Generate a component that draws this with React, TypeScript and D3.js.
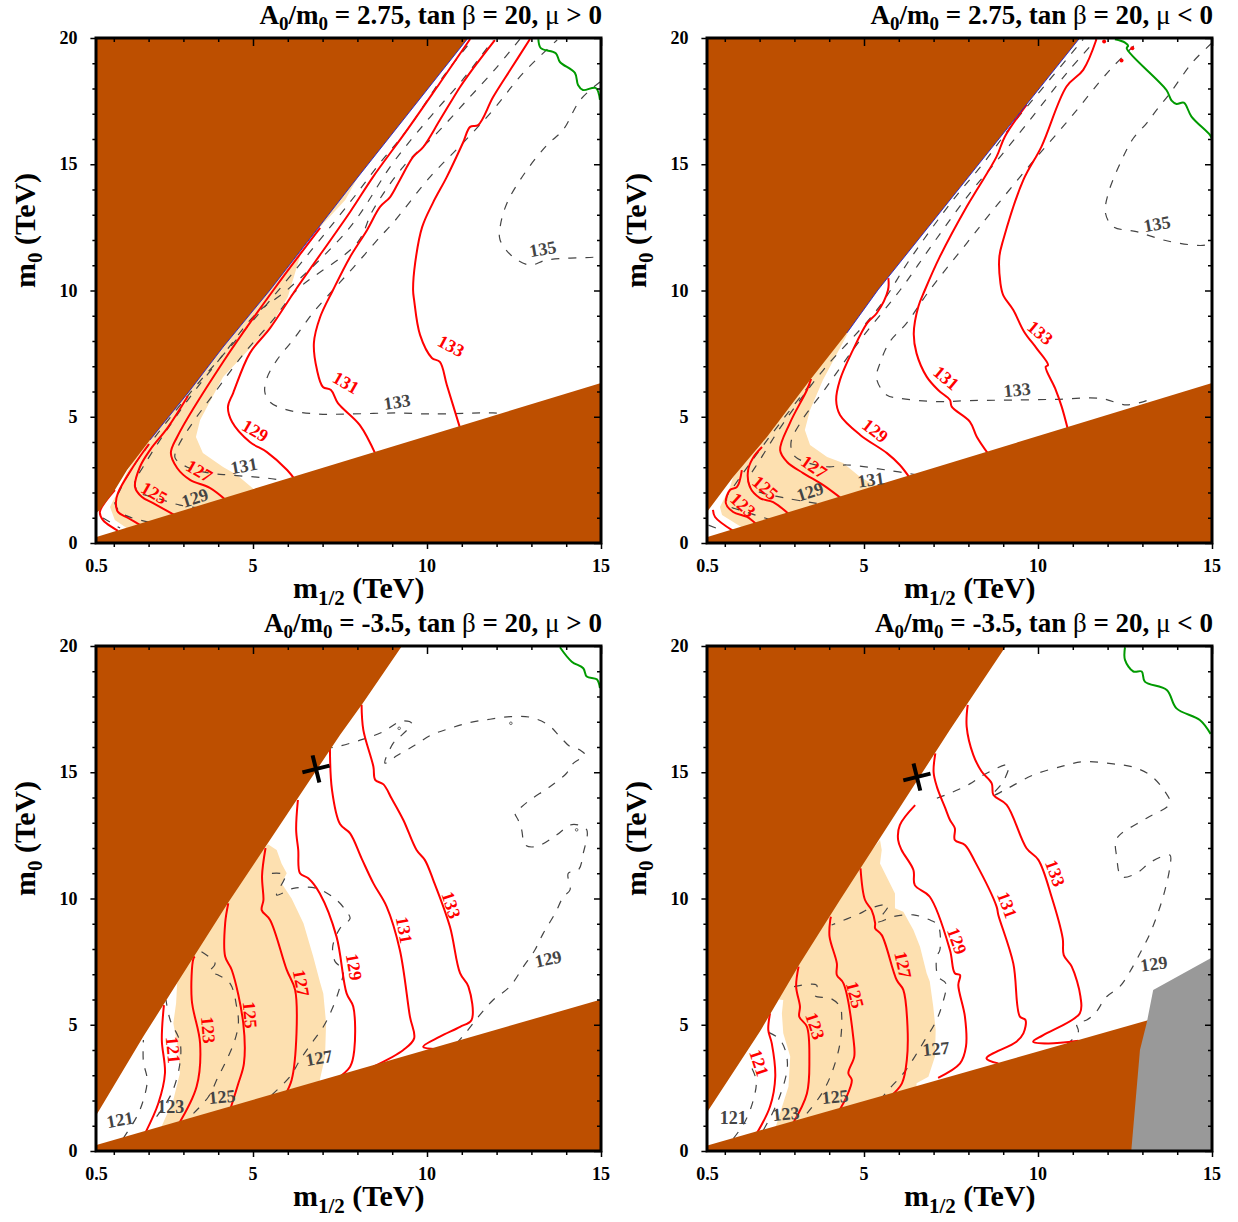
import React, { useRef, useEffect } from 'react';
import * as d3 from 'd3';

type Pt = [number, number];
type Label = [string, number, number, number]; // text, m1/2, m0, rotation

const xMajor = [5, 10, 15];
const xMinor = d3.range(1, 15).filter(d => d % 5 !== 0);
const yMajor = [0, 5, 10, 15, 20];
const yMinor = d3.range(1, 20).filter(d => d % 5 !== 0);

// ---- A0/m0 = 2.75, mu > 0
const p1Upper: Pt[] = [[0.5, 1.19], [0.6, 1.31], [1.03, 2.1], [1.38, 2.89], [2.04, 4.08], [3.13, 5.94], [4.14, 7.76], [5.49, 10.02], [7.79, 14.1], [11.18, 20]];
const p1Lower: Pt[] = [[0.5, 0.24], [15, 6.34]];
const p1Cream: Pt[] = [[0.89, 1.43], [1.09, 1.98], [1.38, 2.81], [4, 9], [8.3, 15.2], [7.65, 13.58], [6.45, 11.8], [6.0, 9.74], [5.49, 8.55], [4.14, 6.57], [3.48, 4.87], [3.36, 4.2], [3.56, 3.56], [4.14, 3.01], [4.54, 2.69], [5.09, 2.06], [5.09, 1.5], [1.2, 0.2], [1.41, 0.55], [1.03, 0.91]];
const p1Red: Pt[][] = [
  [[1.03, 2.1], [0.6, 1.23], [0.69, 0.91], [1.12, 0.48]],
  [[2.01, 3.92], [1.55, 3.01], [1.12, 1.98], [1.06, 1.58], [1.12, 1.23], [1.41, 0.99], [1.81, 0.67]],
  [[3.13, 5.82], [2.56, 4.59], [2.04, 3.68], [1.75, 3.01], [1.61, 2.22], [1.81, 1.82], [2.13, 1.58], [2.79, 1.07]],
  [[6.93, 12.48], [5.63, 10.1], [4.14, 7.17], [2.82, 4.2], [2.64, 3.56], [2.82, 2.97], [3.19, 2.5], [3.76, 2.18], [4.25, 1.66]],
  [[11.24, 19.96], [10.37, 18.22], [9.43, 16.36], [8.45, 14.5], [7.79, 13.11], [6.26, 10.1], [5.49, 8.51], [4.91, 7.52], [4.43, 5.94], [4.28, 5.39], [4.4, 4.79], [4.91, 4], [5.4, 3.6], [5.98, 2.89], [6.21, 2.5]],
  [[11.95, 19.92], [11.29, 18.73], [10.95, 18.06], [10.37, 16.75], [9.89, 15.68], [9.6, 15.29], [9.22, 14.38], [8.94, 13.7], [8.65, 13.31], [8.28, 12.4], [7.79, 11.33], [7.3, 10.02], [6.93, 8.95], [6.75, 7.92], [6.84, 6.85], [7.01, 6.18], [7.24, 6.06], [7.44, 5.54], [8.07, 4.67], [8.53, 3.49]],
  [[12.96, 19.96], [12.39, 18.73], [11.9, 17.66], [11.47, 16.55], [11.24, 16.48], [11.03, 15.84], [10.57, 14.5], [10.17, 13.47], [9.86, 12.51], [9.66, 11.09], [9.6, 10.02], [9.63, 9.62], [9.8, 8.24], [10.14, 7.33], [10.37, 7.17], [10.57, 6.26], [10.95, 4.55]],
];
const p1Dash: Pt[][] = [
  [[0.69, 0.99], [1.18, 0.59]],
  [[2.01, 0.83], [1.26, 1.15], [1.03, 1.58], [1.18, 2.1], [1.55, 3.01], [3.19, 5.94], [4.34, 7.76], [5.57, 9.74], [7.79, 13.5], [8.65, 15.05], [9.43, 16.36], [10.46, 18.46], [11.32, 19.96]],
  [[3.48, 1.39], [2.9, 1.5], [2.24, 1.78], [1.7, 2.02], [1.61, 2.42], [1.84, 3.01], [2.33, 4.08], [3.19, 5.78], [4.14, 7.45], [5.11, 9.11], [5.98, 10.02], [7.79, 12.51], [9.02, 15.05], [10.09, 16.87], [10.95, 18.22], [11.9, 19.92]],
  [[6.15, 2.42], [5.4, 2.57], [4.34, 2.69], [3.76, 2.77], [3.1, 3.01], [2.76, 3.37], [2.84, 3.8], [3.28, 4.79], [3.85, 5.86], [4.71, 7.45], [5.57, 8.83], [6.26, 10.02], [7.99, 11.88], [8.45, 13.19], [9.31, 14.89], [10.29, 16.24], [11.15, 17.54], [12.01, 18.85], [12.67, 19.96]],
  [[12.5, 5.1], [11.9, 5.15], [11.52, 5.15], [10.09, 5.11], [9.14, 5.15], [7.79, 5.11], [6.84, 5.11], [5.98, 5.27], [5.49, 5.58], [5.34, 5.98], [5.4, 6.53], [5.69, 7.25], [6.15, 8.04], [6.72, 9.11], [7.3, 10.02], [7.87, 10.89], [8.65, 12.12], [9.02, 12.67], [10.09, 14.5], [11.03, 15.84], [11.9, 17.15], [12.76, 18.61], [13.74, 19.92]],
  [[14.97, 18.26], [14.4, 17.54], [13.91, 16.36], [13.45, 15.76], [12.87, 14.77], [12.3, 13.47], [12.1, 12.51], [12.1, 12], [12.47, 11.33], [12.96, 11.01], [13.45, 11.21], [14.89, 11.33], [15, 11.36]],
];
const p1Green: Pt[] = [[13.2, 19.95], [13.27, 19.6], [13.7, 19.4], [13.82, 19.05], [14.25, 18.62], [14.34, 18.14], [14.48, 17.94], [14.85, 18.02], [14.97, 17.55]];
const p1RedLabels: Label[] = [['125', 2.16, 1.98, 30], ['127', 3.45, 2.85, 30], ['129', 5.06, 4.44, 30], ['131', 7.67, 6.34, 30], ['133', 10.69, 7.8, 28]];
const p1DashLabels: Label[] = [['129', 3.33, 1.78, -18], ['131', 4.74, 3.05, -10], ['133', 9.14, 5.58, -8], ['135', 13.33, 11.64, -10]];

// ---- A0/m0 = 2.75, mu < 0
const p2Upper: Pt[] = [[0.5, 1.25], [1.24, 2.61], [2.21, 4.2], [3.45, 6.46], [4.51, 8.32], [5.4, 10.02], [11.2, 20]];
const p2Lower: Pt[] = [[0.5, 0.24], [15, 6.34]];
const p2Cream: Pt[] = [[0.86, 1.43], [1.15, 2.22], [1.24, 2.61], [3, 6.5], [4.54, 8.32], [3.82, 6.46], [3.45, 5.27], [3.3, 4.48], [3.45, 3.88], [3.94, 3.41], [4.4, 3.17], [4.89, 2.61], [5.46, 2.18], [5.46, 1.5], [1.5, 0.2], [1.52, 0.59], [0.92, 1.11]];
const p2Red: Pt[][] = [
  [[0.66, 1.31], [0.72, 1.03], [1.24, 0.48]],
  [[1.49, 2.89], [1.35, 2.22], [1.15, 2.1], [1.03, 1.58], [1.24, 1.23], [1.64, 1.03], [1.93, 0.71]],
  [[2.07, 3.8], [1.81, 3.37], [1.67, 2.89], [1.72, 2.22], [2.01, 1.78], [2.39, 1.62], [2.87, 1.11]],
  [[3.48, 6.5], [3.36, 6.06], [2.87, 4.75], [2.59, 3.68], [2.79, 3.21], [3.25, 2.77], [3.82, 2.3], [4.37, 1.74]],
  [[5.7, 10.49], [5.69, 10.02], [5.37, 9.11], [5.09, 8.71], [4.68, 7.64], [4.31, 6.46], [4.2, 5.66], [4.31, 5.07], [4.89, 4.28], [5.66, 3.56], [6.03, 3.09], [6.32, 2.57]],
  [[9.67, 17.35], [9.05, 16.1], [8.81, 15.3], [8.24, 13.98], [7.95, 13.32], [7.18, 11.34], [6.75, 10.02], [6.56, 9.36], [6.43, 8.3], [6.51, 7.51], [6.8, 6.59], [7.13, 6.06], [7.47, 5.66], [7.52, 5.4], [8.04, 4.81], [8.24, 4.21], [8.57, 3.53]],
  [[11.68, 19.95], [11.3, 18.74], [10.82, 18.08], [10.1, 15.7], [9.58, 14.38], [9, 12], [8.89, 11.34], [8.92, 10.29], [9, 9.82], [9.29, 9.23], [9.6, 8.37], [9.96, 7.71], [10.29, 7.05], [10.22, 6.98], [10.49, 6.13], [10.68, 5.4], [10.85, 4.54]],
];
const p2Dash: Pt[][] = [
  [[0.53, 0.71], [0.77, 0.58]],
  [[2.35, 0.91], [1.58, 1.24], [1.1, 1.5], [1.06, 1.84], [1.25, 2.23], [2.11, 3.88], [3.55, 6.46]],
  [[3.64, 1.57], [2.78, 1.77], [1.97, 2.03], [1.73, 2.23], [1.68, 2.5], [2.01, 3.29], [2.68, 4.74], [3.83, 6.85], [5.37, 9.23], [6.37, 11.34], [7.56, 13.59], [8.43, 15.04], [9.29, 16.62], [10.25, 18.21], [11.3, 19.95]],
  [[6.56, 2.69], [5.65, 2.89], [4.5, 3.09], [3.93, 3.02], [3.02, 3.42], [2.9, 3.95], [3.16, 4.74], [3.93, 6.19], [4.89, 8.04], [6.04, 10.02], [6.99, 11.87], [8.04, 13.85], [9, 15.44], [9.96, 17.09], [10.82, 18.6], [11.68, 19.95]],
  [[13.12, 5.64], [12.55, 5.47], [11.78, 5.73], [10.53, 5.69], [9.19, 5.66], [8.04, 5.64], [7.09, 5.6], [6.03, 5.73], [5.65, 5.86], [5.36, 6.52], [5.46, 7.12], [5.74, 7.97], [6.22, 8.7], [6.89, 10.02], [7.95, 11.87], [8.71, 13.19], [9.77, 14.97], [10.92, 16.82], [12.07, 18.74], [12.93, 19.92]],
  [[14.99, 19.79], [14.46, 19.07], [13.79, 17.81], [13.41, 17.15], [13.12, 16.62], [12.74, 16.03], [12.45, 15.3], [12.02, 13.85], [11.94, 13.06], [12.16, 12.53], [12.83, 12.33], [13.79, 11.94], [14.84, 11.81], [15, 12]],
];
const p2Green: Pt[] = [[12.21, 19.95], [12.5, 19.82], [12.59, 19.69], [12.55, 19.59], [13.69, 17.94], [13.84, 17.52], [13.98, 17.39], [14.19, 17.44], [14.41, 16.89], [14.94, 16.16], [15, 16]];
const p2RedDots: Pt[] = [[11.9, 19.86], [12.71, 19.59], [12.4, 19.11]];
const p2RedLabels: Label[] = [['123', 1.52, 1.5, 42], ['125', 2.16, 2.18, 40], ['127', 3.56, 3.01, 35], ['129', 5.32, 4.44, 38], ['131', 7.36, 6.53, 40], ['133', 10.06, 8.32, 40]];
const p2DashLabels: Label[] = [['129', 3.45, 2.02, -18], ['131', 5.2, 2.5, -8], ['133', 9.4, 6.06, -6], ['135', 13.42, 12.63, -10]];

// ---- A0/m0 = -3.5, mu > 0
const p3Upper: Pt[] = [[0.5, 1.43], [1.84, 4.51], [2.82, 6.65], [4.28, 9.82], [7.5, 16.48], [8.16, 17.74], [9.28, 20]];
const p3Lower: Pt[] = [[0.5, 0.24], [15, 6]];
const p3Cream: Pt[] = [[2.82, 6.65], [2.79, 5.85], [2.71, 5.06], [2.85, 4], [2.9, 3.08], [2.71, 2.02], [2.35, 0.9], [2.35, 0.4], [6.92, 2], [6.92, 2.81], [7.07, 3.73], [7.1, 5.06], [7.02, 6.24], [6.92, 6.71], [6.73, 7.7], [6.45, 9.02], [6.11, 10], [5.82, 10.6], [5.97, 11], [5.82, 11.39], [5.68, 11.92], [5.43, 12.15], [3.5, 9]];
const p3Red: Pt[][] = [
  [[2.44, 5.78], [2.38, 4.4], [2.47, 3.08], [2.28, 1.89], [1.9, 0.7]],
  [[3.33, 7.7], [3.29, 7.63], [3.24, 5.98], [3.48, 4.26], [3.38, 2.55], [2.85, 1.03]],
  [[4.29, 9.81], [4.2, 9.02], [4.2, 7.7], [4.39, 7.17], [4.72, 5.06], [4.74, 3.47], [4.58, 2.68], [4.34, 1.62]],
  [[5.36, 12], [5.26, 10.9], [5.3, 9.94], [5.25, 9.54], [5.49, 9.15], [5.97, 7.17], [6.21, 6.38], [6.25, 4.66], [6.11, 2.81], [5.92, 2.22]],
  [[6.29, 13.9], [6.24, 12.71], [6.3, 11.92], [6.35, 11], [6.59, 10.8], [6.92, 10.2], [7.4, 8.49], [7.69, 6.24], [7.88, 5.72], [7.91, 4], [7.79, 3.34], [7.36, 2.81]],
  [[7.21, 16.08], [7.27, 14.3], [7.5, 12.95], [7.79, 12.58], [8.12, 11.59], [8.46, 10.6], [8.84, 9.68], [9.22, 7.96], [9.51, 5.32], [9.63, 4.46], [9.32, 4], [8.46, 3.34]],
  [[8.12, 17.67], [8.17, 16.68], [8.46, 15.22], [8.51, 14.7], [8.75, 14.52], [8.98, 13.97], [9.32, 13.11], [9.7, 11.92], [9.94, 11.52], [10.18, 10.73], [10.66, 8.88], [10.95, 7.04], [11.19, 6.51], [11.28, 5.19], [10.95, 4.92], [10.37, 4.53], [9.89, 4.13], [10.28, 4.03]],
];
const p3Dash: Pt[][] = [
  [[1.27, 0.5], [1.66, 1.36], [1.85, 2.02], [1.96, 2.81], [1.85, 3.54], [1.85, 4.4]],
  [[2.23, 1.36], [2.66, 2.28], [2.9, 3.47], [2.9, 4.33], [2.62, 5.19], [2.5, 5.98]],
  [[3.29, 1.49], [3.72, 2.15], [4, 2.94], [4.24, 3.6], [4.48, 4.4], [4.58, 5.06], [4.53, 5.72], [4.34, 6.64], [4, 6.97], [3.76, 7.1], [3.91, 7.43], [3.52, 7.89]],
  [[5.54, 2.22], [6.06, 2.94], [6.35, 3.6], [6.68, 4.26], [7.02, 4.92], [7.26, 5.58], [7.5, 6.51], [7.59, 7.17], [7.36, 7.5], [7.29, 8.09], [7.5, 8.82], [7.79, 9.21], [7.69, 9.48], [7.4, 9.94], [6.83, 10.4], [6.16, 10.4], [5.68, 10.14], [5.92, 10.93], [5.34, 10.97]],
  [[10.85, 4.26], [11.14, 4.73], [11.52, 5.39], [11.9, 5.98], [12.38, 6.51], [12.77, 7.3], [13.1, 7.96], [13.34, 8.62], [13.68, 9.41], [13.92, 10.07], [14.11, 10.34], [14.06, 11], [14.35, 11.13], [14.49, 11.79], [14.59, 12.72], [14.35, 12.91], [14.11, 12.91], [13.73, 12.52], [13.15, 12.06], [12.82, 12.12], [12.72, 12.72], [12.62, 13.11], [12.53, 13.38], [12.67, 13.57], [12.96, 13.9], [13.53, 14.43], [14.01, 14.96], [14.21, 15.36], [14.54, 15.69], [14.4, 15.88], [14.11, 16.02], [13.82, 16.41], [13.49, 16.87], [12.96, 17.18], [12.39, 17.2], [11.81, 17.1], [11.24, 16.97], [10.66, 16.74], [10.13, 16.48], [9.66, 16.08], [9.13, 15.65], [8.79, 15.36], [9.03, 16.15], [9.18, 16.35], [9.56, 16.94], [9.27, 17.03], [8.75, 16.61], [8.17, 16.31], [7.5, 16.04], [7.21, 15.96]],
];
const p3Green: Pt[] = [[13.82, 19.95], [14.16, 19.38], [14.49, 19.12], [14.59, 18.79], [14.88, 18.68], [14.97, 18.33]];
const p3Dots: Pt[] = [[9.2, 16.74], [12.41, 16.94], [14.3, 12.72]];
const p3Cross: Pt = [6.81, 15.13];
const p3RedLabels: Label[] = [['121', 2.7, 4, 85], ['123', 3.71, 4.79, 85], ['125', 4.91, 5.39, 85], ['127', 6.38, 6.65, 80], ['129', 7.9, 7.29, 80], ['131', 9.34, 8.75, 80], ['133', 10.69, 9.74, 72]];
const p3DashLabels: Label[] = [['121', 1.18, 1.23, -10], ['123', 2.64, 1.74, 0], ['125', 4.11, 2.14, -5], ['127', 6.9, 3.68, -10], ['129', 13.48, 7.6, -12]];

// ---- A0/m0 = -3.5, mu < 0
const p4Upper: Pt[] = [[0.5, 1.55], [2.01, 4.73], [3.16, 7.43], [4.31, 9.94], [7.47, 16.68], [7.95, 17.67], [9.08, 20]];
const p4Lower: Pt[] = [[0.5, 0.22], [15, 5.9]];
const p4Grey: Pt[] = [[15, 7.66], [13.31, 6.38], [13.13, 5.11], [12.93, 4], [12.68, 0], [15, 0]];
const p4Cream: Pt[] = [[2.55, 6], [2.68, 5.98], [2.64, 5.45], [2.68, 4.66], [2.88, 3.74], [2.83, 2.55], [2.45, 0.9], [2.45, 0.4], [6.51, 2], [6.51, 2.68], [6.85, 2.94], [7.04, 3.74], [7.06, 4.79], [6.99, 5.72], [6.89, 6.71], [6.8, 7.04], [6.61, 8.09], [6.42, 8.75], [6.13, 9.48], [5.89, 9.61], [5.89, 10.2], [5.65, 10.86], [5.46, 11.39], [5.51, 11.92], [5.46, 12.32], [3.5, 9]];
const p4Red: Pt[][] = [
  [[2.3, 5.45], [2.25, 4.79], [2.35, 4.26], [2.45, 2.94], [2.3, 1.76], [1.92, 0.7]],
  [[3.12, 7.3], [3.05, 6.51], [3.16, 5.72], [3.14, 5.32], [3.36, 4.92], [3.43, 3.6], [3.36, 2.28], [2.95, 1.07]],
  [[4.05, 9.28], [4.03, 9.15], [4.01, 8.49], [4.22, 7.43], [4.22, 6.97], [4.41, 6.64], [4.7, 4.4], [4.72, 3.74], [4.55, 3.08], [4.65, 2.81], [4.5, 2.15], [4.27, 1.56]],
  [[4.9, 11.2], [5.03, 9.94], [5.22, 9.54], [5.32, 9.02], [5.32, 8.82], [5.51, 8.55], [5.94, 6.77], [6.13, 6.38], [6.25, 4.92], [6.23, 3.6], [6.09, 2.68], [5.75, 2.15]],
  [[6.47, 13.7], [6.03, 12.91], [5.98, 12.32], [6.08, 11.92], [6.42, 11.13], [6.46, 10.53], [6.89, 10.07], [7.47, 7.96], [7.61, 7.04], [7.76, 6.97], [7.71, 6.57], [7.9, 5.32], [7.93, 4.13], [7.76, 3.47], [7.13, 2.9]],
  [[7.05, 15.75], [7, 15], [7.1, 14.4], [7.33, 13.6], [7.47, 13.11], [7.61, 12.78], [7.61, 12.32], [7.9, 12.12], [8.19, 11.46], [8.81, 9.68], [8.86, 9.35], [9.29, 7.43], [9.48, 5.32], [9.64, 5.19], [9.58, 4.66], [9.38, 4.33], [8.52, 3.67], [8.86, 3.47]],
  [[7.98, 17.67], [7.95, 16.81], [8.14, 15.69], [8.38, 15.03], [8.67, 14.56], [8.72, 14.1], [9.1, 13.71], [9.67, 11.99], [10.01, 11.53], [10.39, 10.07], [10.71, 8.42], [10.74, 7.76], [10.97, 7.3], [11.22, 6.11], [11.2, 5.45], [10.15, 4.59], [9.86, 4.33], [10.29, 4.26], [11.16, 4.37]],
];
const p4Dash: Pt[][] = [
  [[1.25, 0.5], [1.58, 1.16], [1.82, 2.02], [1.9, 2.81], [1.68, 3.54]],
  [[2.11, 0.83], [2.54, 2.02], [2.8, 3.47], [2.59, 4.4], [2.11, 4.79]],
  [[3.36, 1.49], [3.79, 2.28], [4.07, 3.08], [4.31, 4.26], [4.36, 5.32], [4.31, 5.72], [4.03, 6.05], [3.6, 6.14], [3.64, 6.57], [2.88, 6.48]],
  [[5.46, 2.02], [5.74, 2.48], [6.13, 3.07], [6.46, 3.74], [6.75, 4.4], [7.04, 5.06], [7.23, 5.72], [7.35, 6.64], [7.13, 6.9], [7.09, 7.7], [7.18, 7.96], [7.13, 8.95], [6.94, 9.12], [6.42, 9.35], [5.84, 9.28], [5.41, 9.08], [5.7, 9.74], [5.17, 9.61], [4.89, 9.41], [4.07, 8.95]],
  [[10.82, 4.2], [11.16, 4.73], [11.11, 5.05], [11.4, 5.19], [11.64, 5.45], [11.97, 6.11], [12.35, 6.51], [12.64, 7.1], [12.98, 7.96], [13.22, 8.62], [13.46, 9.48], [13.65, 10.34], [13.79, 11.26], [13.79, 11.72], [13.26, 11.46], [12.83, 11], [12.4, 10.86], [12.26, 11.66], [12.23, 12.25], [12.35, 12.52], [13.12, 13.18], [13.79, 13.77], [13.65, 14.23], [13.22, 14.89], [12.69, 15.22], [12.16, 15.33], [11.3, 15.42], [10.73, 15.25], [9.86, 14.89], [9.1, 14.34], [8.67, 14.06], [9, 14.63], [9.15, 15.29], [8.43, 14.89], [8.04, 14.54], [7.47, 14.17], [6.95, 13.9]],
];
const p4Green: Pt[] = [[12.5, 19.95], [12.5, 19.45], [12.74, 18.99], [12.98, 18.99], [13.07, 18.59], [13.7, 18.26], [13.98, 17.53], [14.65, 17.07], [14.96, 16.52]];
const p4Cross: Pt = [6.52, 14.81];
const p4RedLabels: Label[] = [['121', 1.98, 3.49, 72], ['123', 3.59, 4.95, 72], ['125', 4.74, 6.18, 75], ['127', 6.12, 7.37, 78], ['129', 7.67, 8.32, 70], ['131', 9.11, 9.74, 70], ['133', 10.49, 11, 70]];
const p4DashLabels: Label[] = [['121', 1.24, 1.31, 0], ['123', 2.76, 1.47, -5], ['125', 4.17, 2.14, -5], ['127', 7.07, 4.04, -5], ['129', 13.33, 7.41, -8]];

const panels = [
  { a0: '2.75', mu: '>', left: 96.4, top: 38, upper: p1Upper, lower: p1Lower, cream: p1Cream, red: p1Red, dash: p1Dash, green: p1Green, redLabels: p1RedLabels, dashLabels: p1DashLabels, blue: true },
  { a0: '2.75', mu: '<', left: 707.4, top: 38, upper: p2Upper, lower: p2Lower, cream: p2Cream, red: p2Red, dash: p2Dash, green: p2Green, redLabels: p2RedLabels, dashLabels: p2DashLabels, blue: true, redDots: p2RedDots },
  { a0: '-3.5', mu: '>', left: 96.4, top: 646, upper: p3Upper, lower: p3Lower, cream: p3Cream, red: p3Red, dash: p3Dash, green: p3Green, redLabels: p3RedLabels, dashLabels: p3DashLabels, cross: p3Cross, dots: p3Dots },
  { a0: '-3.5', mu: '<', left: 707.4, top: 646, upper: p4Upper, lower: p4Lower, cream: p4Cream, red: p4Red, dash: p4Dash, green: p4Green, redLabels: p4RedLabels, dashLabels: p4DashLabels, cross: p4Cross, grey: p4Grey },
];

const SERIF = '"Liberation Serif", serif';
const BROWN = '#bd4f00';
const CREAM = '#fde0b0';
const W = 504.6;
const H = 505;

const App = () => {
  const ref = useRef<SVGSVGElement | null>(null);

  useEffect(() => {
    if (!ref.current) return;
    const svg = d3.select(ref.current);
    svg.selectAll('*').remove();

    panels.forEach((p: any, i) => {
      const x = d3.scaleLinear().domain([0.5, 15]).range([0, W]);
      const y = d3.scaleLinear().domain([0, 20]).range([H, 0]);
      const g = svg.append('g').attr('transform', `translate(${p.left},${p.top})`);
      const clipId = `clip${i}`;
      g.append('clipPath').attr('id', clipId).append('rect').attr('width', W).attr('height', H);
      const plot = g.append('g').attr('clip-path', `url(#${clipId})`);

      const poly = d3.line<Pt>().x(d => x(d[0])).y(d => y(d[1]));
      const curve = d3.line<Pt>().x(d => x(d[0])).y(d => y(d[1])).curve(d3.curveCatmullRom.alpha(0.5));

      plot.append('path').attr('d', poly(p.cream) + 'Z').attr('fill', CREAM);

      p.dash.forEach((c: Pt[]) => {
        plot.append('path').attr('d', curve(c)).attr('fill', 'none')
          .attr('stroke', '#444').attr('stroke-width', 1.2).attr('stroke-dasharray', '8 9');
      });
      p.red.forEach((c: Pt[]) => {
        plot.append('path').attr('d', curve(c)).attr('fill', 'none').attr('stroke', '#f00').attr('stroke-width', 2);
      });
      plot.append('path').attr('d', curve(p.green)).attr('fill', 'none').attr('stroke', '#009a00').attr('stroke-width', 2);

      (p.dots || []).forEach((d: Pt) => {
        plot.append('circle').attr('cx', x(d[0])).attr('cy', y(d[1])).attr('r', 1.3)
          .attr('fill', 'none').attr('stroke', '#444').attr('stroke-width', 0.8);
      });
      (p.redDots || []).forEach((d: Pt) => {
        plot.append('circle').attr('cx', x(d[0])).attr('cy', y(d[1])).attr('r', 2).attr('fill', '#f00');
      });

      // excluded regions sit over the contours
      const upperArea: Pt[] = [...p.upper, [0.5, 20]];
      plot.append('path').attr('d', poly(upperArea) + 'Z').attr('fill', BROWN);
      const lowerArea: Pt[] = [...p.lower, [15, 0], [0.5, 0]];
      plot.append('path').attr('d', poly(lowerArea) + 'Z').attr('fill', BROWN);
      if (p.grey) plot.append('path').attr('d', poly(p.grey) + 'Z').attr('fill', '#999');
      if (p.blue) {
        plot.append('path').attr('d', poly(p.upper.slice(4))).attr('fill', 'none')
          .attr('stroke', '#2222cc').attr('stroke-width', 0.9);
      }

      const label = (l: Label, fill: string) => {
        g.append('text').text(l[0])
          .attr('transform', `translate(${x(l[1])},${y(l[2])}) rotate(${l[3]})`)
          .attr('text-anchor', 'middle').attr('dy', '0.33em')
          .attr('font-family', SERIF).attr('font-size', 18).attr('font-weight', 'bold')
          .attr('fill', fill);
      };
      p.redLabels.forEach((l: Label) => label(l, '#f00'));
      p.dashLabels.forEach((l: Label) => label(l, '#444'));

      if (p.cross) {
        g.append('path').attr('d', 'M-14,0H14M0,-14V14')
          .attr('transform', `translate(${x(p.cross[0])},${y(p.cross[1])}) rotate(-14)`)
          .attr('stroke', '#000').attr('stroke-width', 4).attr('fill', 'none');
      }

      // ticks: outward on bottom and left, inward on top and right
      const axes: [any, string, number, number][] = [
        [d3.axisBottom(x), `translate(0,${H})`, 6, 4],
        [d3.axisTop(x), 'translate(0,0)', -8, -4],
        [d3.axisLeft(y), 'translate(0,0)', 6, 4],
        [d3.axisRight(y), `translate(${W},0)`, -7, -4],
      ];
      axes.forEach(([axis, tr, major, minor], k) => {
        const isX = k < 2;
        const g1 = g.append('g').attr('transform', tr)
          .call(axis.tickValues(isX ? xMajor : yMajor).tickSize(major).tickFormat(() => ''));
        const g2 = g.append('g').attr('transform', tr)
          .call(axis.tickValues(isX ? xMinor : yMinor).tickSize(minor).tickFormat(() => ''));
        [g1, g2].forEach(s => {
          s.select('.domain').remove();
          s.selectAll('line').attr('stroke', '#000').attr('stroke-width', 1.5);
          s.selectAll('text').remove();
        });
      });

      g.append('rect').attr('x', -0.4).attr('y', 0).attr('width', W + 0.4).attr('height', H)
        .attr('fill', 'none').attr('stroke', '#000').attr('stroke-width', 3);

      // tick labels
      const tickText = (sel: any) => sel
        .attr('font-family', SERIF).attr('font-size', 18).attr('font-weight', 'bold').attr('fill', '#000');
      [0.5, ...xMajor].forEach(v => {
        tickText(g.append('text').text(String(v)))
          .attr('x', x(v)).attr('y', H + 29).attr('text-anchor', 'middle');
      });
      yMajor.forEach(v => {
        tickText(g.append('text').text(String(v)))
          .attr('x', -19).attr('y', y(v) + 6).attr('text-anchor', 'end');
      });

      // title
      const title = g.append('text').attr('x', W + 1).attr('y', -14).attr('text-anchor', 'end')
        .attr('font-family', SERIF).attr('font-size', 27).attr('font-weight', 'bold').attr('fill', '#000');
      title.append('tspan').text('A');
      title.append('tspan').text('0').attr('font-size', 19).attr('dy', 6);
      title.append('tspan').text('/m').attr('dy', -6);
      title.append('tspan').text('0').attr('font-size', 19).attr('dy', 6);
      title.append('tspan').text(` = ${p.a0}, tan `).attr('dy', -6);
      title.append('tspan').text('β').attr('font-weight', 'normal');
      title.append('tspan').text(' = 20, ');
      title.append('tspan').text('μ').attr('font-weight', 'normal');
      title.append('tspan').text(` ${p.mu} 0`);

      // axis titles
      const xTitle = g.append('text').attr('x', W / 2 + 10).attr('y', H + 55).attr('text-anchor', 'middle')
        .attr('font-family', SERIF).attr('font-size', 30).attr('font-weight', 'bold').attr('fill', '#000');
      xTitle.append('tspan').text('m');
      xTitle.append('tspan').text('1/2').attr('font-size', 21).attr('dy', 7);
      xTitle.append('tspan').text(' (TeV)').attr('dy', -7);

      const yTitle = g.append('text').attr('transform', `translate(-61,${H / 2 - 60}) rotate(-90)`)
        .attr('text-anchor', 'middle')
        .attr('font-family', SERIF).attr('font-size', 30).attr('font-weight', 'bold').attr('fill', '#000');
      yTitle.append('tspan').text('m');
      yTitle.append('tspan').text('0').attr('font-size', 21).attr('dy', 7);
      yTitle.append('tspan').text(' (TeV)').attr('dy', -7);
    });
  }, []);

  return (
    <svg ref={ref} width={1238} height={1222}
      style={{ position: 'absolute', left: 0, top: 0, background: '#fff' }} />
  );
};

export default App;
